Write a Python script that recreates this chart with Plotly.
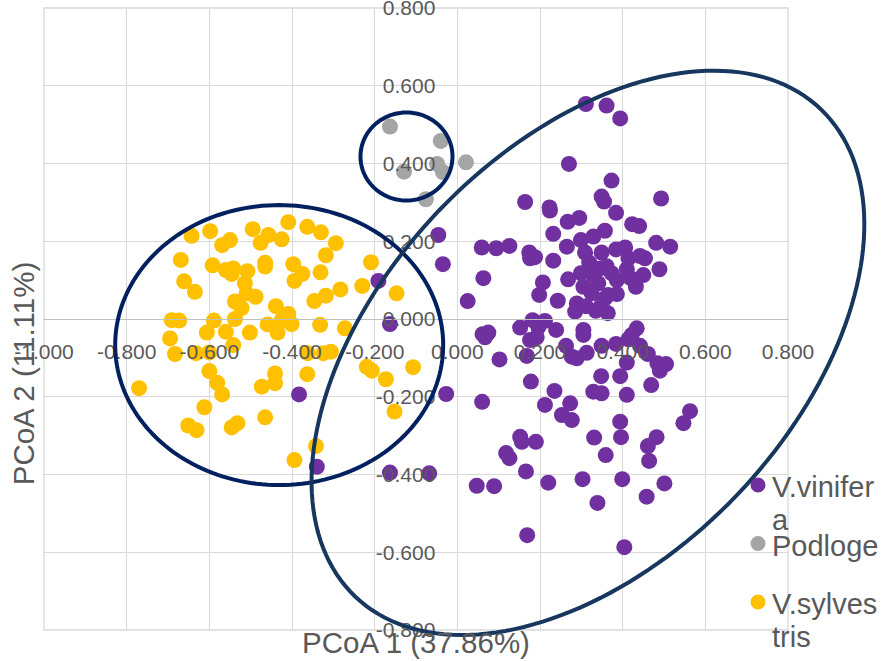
import math
import plotly.graph_objects as go

# ---- PCoA scores -------------------------------------------------------
vinifera_x = [
    0.311, 0.361, 0.394, 0.270, 0.373, 0.349, 0.355, 0.493, 0.164, 0.223,
    0.224, 0.384, 0.267, 0.295, 0.423, 0.440, 0.232, -0.046, 0.357, 0.329,
    0.299, 0.481, 0.515, 0.059, 0.094, 0.126, 0.174, 0.188, 0.176, 0.232,
    0.265, 0.309, 0.319, 0.349, 0.384, 0.406, 0.414, 0.442, 0.454, 0.489,
    -0.035, 0.063, 0.207, 0.198, 0.268, 0.299, 0.305, 0.329, 0.345, 0.361,
    0.373, 0.386, 0.410, 0.419, 0.432, 0.450, 0.341, 0.325, 0.357, 0.386,
    0.365, 0.025, 0.243, 0.289, 0.285, 0.311, 0.335, 0.349, 0.364, 0.182,
    0.212, 0.239, 0.152, 0.196, 0.176, 0.192, 0.305, 0.305, 0.263, 0.277,
    0.289, 0.313, 0.061, 0.075, 0.067, 0.102, 0.168, 0.349, 0.384, 0.434,
    0.422, 0.414, 0.442, 0.461, 0.410, 0.484, 0.505, 0.490, 0.348, 0.394,
    0.469, 0.178, -0.027, 0.060, 0.235, 0.212, 0.273, 0.253, 0.277, 0.329,
    0.349, 0.410, 0.394, 0.396, 0.331, 0.359, 0.482, 0.461, 0.464, 0.563,
    0.547, 0.152, 0.156, 0.190, 0.118, 0.126, 0.166, 0.220, 0.303, 0.399,
    0.501, 0.339, 0.458, 0.047, 0.089, 0.169, 0.404, -0.068, -0.191, -0.163,
    -0.383, -0.340, -0.163,
]
vinifera_y = [
    0.553, 0.549, 0.516, 0.399, 0.356, 0.315, 0.302, 0.310, 0.301, 0.287,
    0.279, 0.273, 0.250, 0.260, 0.244, 0.239, 0.219, 0.216, 0.227, 0.212,
    0.203, 0.196, 0.186, 0.184, 0.182, 0.188, 0.171, 0.159, 0.156, 0.150,
    0.186, 0.171, 0.145, 0.171, 0.179, 0.184, 0.156, 0.162, 0.156, 0.128,
    0.141, 0.105, 0.094, 0.062, 0.102, 0.118, 0.083, 0.113, 0.130, 0.136,
    0.118, 0.100, 0.128, 0.105, 0.083, 0.113, 0.092, 0.066, 0.053, 0.064,
    0.062, 0.046, 0.047, 0.040, 0.019, 0.033, 0.021, 0.036, 0.015, -0.003,
    -0.005, -0.028, -0.022, -0.021, -0.054, -0.047, -0.028, -0.041, -0.069, -0.097,
    -0.101, -0.087, -0.039, -0.035, -0.047, -0.104, -0.095, -0.069, -0.064, -0.024,
    -0.041, -0.052, -0.069, -0.090, -0.112, -0.114, -0.116, -0.133, -0.147, -0.147,
    -0.170, -0.161, -0.193, -0.213, -0.185, -0.221, -0.217, -0.247, -0.260, -0.187,
    -0.191, -0.195, -0.264, -0.304, -0.305, -0.350, -0.304, -0.327, -0.365, -0.237,
    -0.268, -0.303, -0.316, -0.316, -0.345, -0.358, -0.392, -0.421, -0.412, -0.412,
    -0.423, -0.473, -0.457, -0.429, -0.430, -0.556, -0.587, -0.397, 0.098, -0.013,
    -0.194, -0.380, -0.395,
]

podloge_x = [-0.163, -0.040, -0.129, -0.049, -0.035, 0.021, -0.076]
podloge_y = [0.495, 0.458, 0.379, 0.399, 0.378, 0.403, 0.308]

sylvestris_x = [
    -0.643, -0.598, -0.550, -0.569, -0.495, -0.457, -0.476, -0.409, -0.425, -0.363,
    -0.330, -0.294, -0.318, -0.669, -0.592, -0.560, -0.542, -0.546, -0.508, -0.465,
    -0.465, -0.397, -0.375, -0.394, -0.331, -0.209, -0.661, -0.635, -0.514, -0.510,
    -0.488, -0.538, -0.522, -0.439, -0.346, -0.318, -0.283, -0.230, -0.147, -0.691,
    -0.673, -0.589, -0.538, -0.409, -0.401, -0.425, -0.459, -0.332, -0.272, -0.606,
    -0.560, -0.502, -0.695, -0.435, -0.683, -0.632, -0.542, -0.362, -0.324, -0.306,
    -0.600, -0.581, -0.569, -0.770, -0.612, -0.651, -0.631, -0.546, -0.532, -0.465,
    -0.473, -0.441, -0.441, -0.363, -0.219, -0.207, -0.173, -0.107, -0.152, -0.342,
    -0.394, -0.600,
]
sylvestris_y = [
    0.214, 0.226, 0.203, 0.190, 0.231, 0.216, 0.196, 0.249, 0.205, 0.237,
    0.223, 0.195, 0.164, 0.152, 0.138, 0.126, 0.130, 0.116, 0.123, 0.145,
    0.135, 0.141, 0.116, 0.098, 0.120, 0.146, 0.097, 0.070, 0.092, 0.066,
    0.057, 0.045, 0.028, 0.033, 0.046, 0.060, 0.076, 0.085, 0.066, -0.003,
    -0.004, -0.004, 0.000, 0.013, -0.013, -0.003, -0.014, -0.015, -0.024, -0.035,
    -0.033, -0.035, -0.050, -0.035, -0.090, -0.088, -0.067, -0.088, -0.088, -0.084,
    -0.134, -0.164, -0.194, -0.178, -0.227, -0.274, -0.286, -0.279, -0.268, -0.253,
    -0.174, -0.140, -0.165, -0.142, -0.123, -0.133, -0.155, -0.124, -0.238, -0.327,
    -0.363, -0.086,
]

series_names = ["V.vinifera", "Podloge", "V.sylvestris"]
series_colors = ["#7030A0", "#A5A5A5", "#FFC000"]
# legend text as it wraps in the narrow legend column
legend_lines = [["V.vinifer", "a"], ["Podloge"], ["V.sylves", "tris"]]

# axis ticks
x_ticks = [-1.0, -0.8, -0.6, -0.4, -0.2, 0.0, 0.2, 0.4, 0.6, 0.8]
x_tick_labels = ["-1.000", "-0.800", "-0.600", "-0.400", "-0.200",
                 "0.000", "0.200", "0.400", "0.600", "0.800"]
y_ticks = [-0.8, -0.6, -0.4, -0.2, 0.0, 0.2, 0.4, 0.6, 0.8]
y_tick_labels = ["-0.800", "-0.600", "-0.400", "-0.200", "0.000",
                 "0.200", "0.400", "0.600", "0.800"]

x_title = "PCoA 1 (37.86%)"
y_title = "PCoA 2 (11.11%)"

# ---- layout geometry ---------------------------------------------------
W, H = 885, 661
ML, MR, MT, MB = 44, 97, 8, 31
PW, PH = W - ML - MR, H - MT - MB
XR = (-1.0, 0.8)
YR = (-0.8, 0.8)

TEXT = "#595959"
GRID = "#D9D9D9"
FONT = "Liberation Sans, Arial, sans-serif"


def to_paper(x, y):
    return (x - XR[0]) / (XR[1] - XR[0]), (y - YR[0]) / (YR[1] - YR[0])


def px_to_paper(px, py):
    """Page pixel position -> paper coordinates."""
    return (px - ML) / PW, (MT + PH - py) / PH


def ellipse_path(cx, cy, a_px, b_px, angle_deg=0.0, n=180):
    """Closed SVG path (paper coords) of an ellipse centred on a data point,
    semi-axes given in screen pixels, rotated counter-clockwise."""
    px0, py0 = to_paper(cx, cy)
    th = math.radians(angle_deg)
    pts = []
    for i in range(n + 1):
        t = 2 * math.pi * i / n
        u, v = a_px * math.cos(t), b_px * math.sin(t)
        dx = u * math.cos(th) - v * math.sin(th)
        dy = u * math.sin(th) + v * math.cos(th)
        pts.append((px0 + dx / PW, py0 + dy / PH))
    return "M " + " L ".join(f"{x:.5f},{y:.5f}" for x, y in pts) + " Z"


# group outlines: (centre x, centre y, semi-axis a px, semi-axis b px, angle, colour)
outlines = [
    (-0.431, -0.067, 164, 140, 0, "#002060"),
    (-0.123, 0.418, 46, 44, 0, "#002060"),
    (0.316, -0.087, 337, 206, 46.3, "#17375E"),
]

fig = go.Figure()
for name, color, xs, ys in zip(series_names, series_colors,
                               [vinifera_x, podloge_x, sylvestris_x],
                               [vinifera_y, podloge_y, sylvestris_y]):
    fig.add_trace(go.Scatter(
        x=xs, y=ys, mode="markers", name=name, showlegend=False,
        marker=dict(size=16, color=color, line=dict(width=0)),
    ))

# plot-area frame (outer gridlines)
fig.add_shape(type="rect", xref="paper", yref="paper", x0=0, y0=0, x1=1, y1=1,
              layer="below", line=dict(color=GRID, width=1.3))

for cx, cy, a, b, ang, col in outlines:
    fig.add_shape(type="path", path=ellipse_path(cx, cy, a, b, ang),
                  xref="paper", yref="paper", layer="above",
                  line=dict(color=col, width=4), fillcolor="rgba(0,0,0,0)")

# legend column on the right
LEG_X, LEG_Y0, LEG_STEP, LEG_LINE, LEG_R = 758, 485, 58.5, 33, 7.5
for i, (lines, color) in enumerate(zip(legend_lines, series_colors)):
    my = LEG_Y0 + i * LEG_STEP
    x0, y0 = px_to_paper(LEG_X - LEG_R, my + LEG_R)
    x1, y1 = px_to_paper(LEG_X + LEG_R, my - LEG_R)
    fig.add_shape(type="circle", xref="paper", yref="paper",
                  x0=x0, y0=y0, x1=x1, y1=y1, layer="above",
                  fillcolor=color, line=dict(width=0))
    for j, line in enumerate(lines):
        tx, ty = px_to_paper(770, my + 2 + j * LEG_LINE)
        fig.add_annotation(text=line, xref="paper", yref="paper", x=tx, y=ty,
                           xanchor="left", yanchor="middle", showarrow=False,
                           font=dict(size=29, color=TEXT, family=FONT))

fig.add_annotation(text=x_title, xref="paper", yref="paper",
                   x=0.5, y=-0.02, xanchor="center", yanchor="middle",
                   showarrow=False, font=dict(size=29.5, color=TEXT, family=FONT))
fig.add_annotation(text=y_title, xref="paper", yref="paper",
                   x=-0.028, y=0.413, xanchor="center", yanchor="middle",
                   textangle=-90, showarrow=False,
                   font=dict(size=29.5, color=TEXT, family=FONT))

fig.update_layout(
    width=W, height=H,
    margin=dict(l=ML, r=MR, t=MT, b=MB, pad=0, autoexpand=False),
    paper_bgcolor="white", plot_bgcolor="white",
    font=dict(family=FONT, color=TEXT),
    showlegend=False,
    xaxis=dict(range=list(XR), tickvals=x_ticks, ticktext=x_tick_labels,
               anchor="free", position=0.5, showgrid=True, gridcolor=GRID,
               gridwidth=1.3, zeroline=False, showline=True, linecolor="#BFBFBF",
               linewidth=1.3, ticks="", ticklabelstandoff=14,
               ticklabeloverflow="allow", automargin=False,
               tickfont=dict(size=21, color=TEXT, family=FONT)),
    yaxis=dict(range=list(YR), tickvals=y_ticks, ticktext=y_tick_labels,
               anchor="free", position=(0 - XR[0]) / (XR[1] - XR[0]),
               showgrid=True, gridcolor=GRID, gridwidth=1.3, zeroline=False,
               showline=False, ticks="", ticklabelstandoff=22,
               ticklabeloverflow="allow", automargin=False,
               tickfont=dict(size=21, color=TEXT, family=FONT)),
)

fig.write_html("out.html")
